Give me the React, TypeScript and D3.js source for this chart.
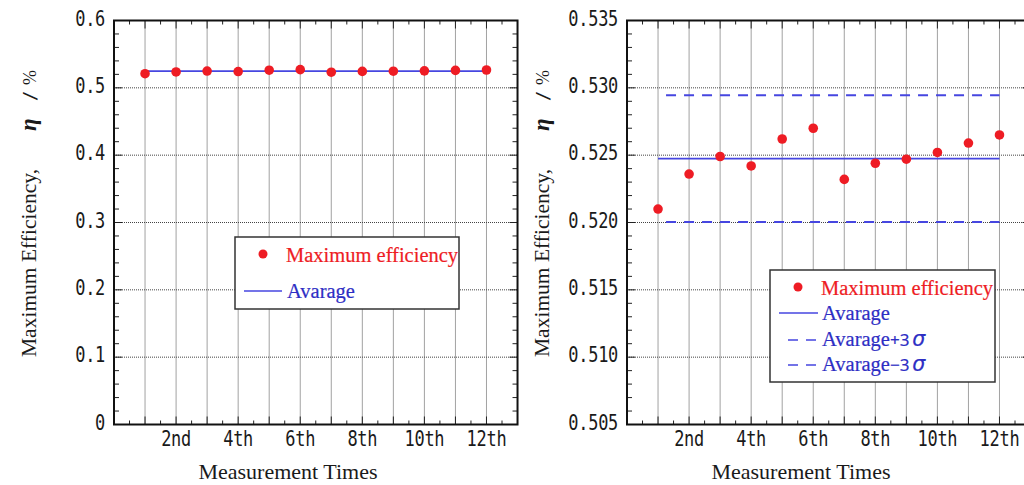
import React from 'react';
import * as d3 from 'd3';

const times = [1, 2, 3, 4, 5, 6, 7, 8, 9, 10, 11, 12];
const efficiency = [0.521, 0.5236, 0.5249, 0.5242, 0.5262, 0.527, 0.5232, 0.5244, 0.5247, 0.5252, 0.5259, 0.5265];
const average = 0.52475;
const avgPlus3Sigma = 0.52945;
const avgMinus3Sigma = 0.52003;

const xTickValues = [2, 4, 6, 8, 10, 12];
const xTickLabels = ['2nd', '4th', '6th', '8th', '10th', '12th'];

const leftYTicks = [0, 0.1, 0.2, 0.3, 0.4, 0.5, 0.6];
const leftYLabels = ['0', '0.1', '0.2', '0.3', '0.4', '0.5', '0.6'];
const rightYTicks = [0.505, 0.51, 0.515, 0.52, 0.525, 0.53, 0.535];
const rightYLabels = ['0.505', '0.510', '0.515', '0.520', '0.525', '0.530', '0.535'];

const RED = '#ee1c24';
const BLUE_TEXT = '#2e2ec4';
const BLUE_LINE = '#4646e0';
const MONO = '"DejaVu Sans Mono", "Liberation Mono", monospace';
const SERIF = '"Liberation Serif", "Times New Roman", serif';

const TOP = 20.5;
const BOTTOM = 424.5;
const UNIT = 31.04;

interface PanelProps {
  left: number;
  yTicks: number[];
  yLabels: string[];
  minorStep: number;
  showSigma: boolean;
  legend: { x: number; y: number; w: number; h: number };
}

// gothic-looking tick label: monospace, stretched a little vertically
const TickText: React.FC<{ x: number; y: number; anchor: string; children: React.ReactNode }> = ({ x, y, anchor, children }) => (
  <text transform={`translate(${x},${y}) scale(1,1.2)`} textAnchor={anchor} fontFamily={MONO} fontSize={17}
    letterSpacing={-0.3} fill="#1a1a1a">
    {children}
  </text>
);

const Panel: React.FC<PanelProps> = ({ left, yTicks, yLabels, minorStep, showSigma, legend }) => {
  const x = d3.scaleLinear().domain([0, 13]).range([left, left + 13 * UNIT]);
  const y = d3.scaleLinear().domain([yTicks[0], yTicks[yTicks.length - 1]]).range([BOTTOM, TOP]);
  const right = x(13);
  const [y0, y1] = y.domain();
  const yMinor = d3.range(Math.round((y1 - y0) / minorStep) + 1).map(i => y0 + i * minorStep);
  const xMinor = d3.range(27).map(i => i * 0.5);
  const perMajor = Math.round((yTicks[1] - yTicks[0]) / minorStep);

  const grid = '#444';
  const lx = legend.x;
  const ly = legend.y;

  return (
    <g>
      {/* grid */}
      {times.map(t => (
        <line key={'gx' + t} x1={x(t)} x2={x(t)} y1={TOP} y2={BOTTOM} stroke={grid} strokeWidth={1} strokeDasharray="1,1" />
      ))}
      {yTicks.slice(1, -1).map(v => (
        <line key={'gy' + v} x1={left} x2={right} y1={y(v)} y2={y(v)} stroke={grid} strokeWidth={1} strokeDasharray="1,1" />
      ))}

      {/* minor / major ticks, mirrored on all four sides */}
      {yMinor.map((v, i) => {
        const len = i % perMajor === 0 ? 8 : 5;
        return (
          <g key={'ty' + i}>
            <line x1={left} x2={left + len} y1={y(v)} y2={y(v)} stroke="#222" strokeWidth={1} />
            <line x1={right} x2={right - len} y1={y(v)} y2={y(v)} stroke="#222" strokeWidth={1} />
          </g>
        );
      })}
      {xMinor.map((v, i) => {
        const len = i % 2 === 0 ? 8 : 4;
        return (
          <g key={'tx' + i}>
            <line x1={x(v)} x2={x(v)} y1={BOTTOM} y2={BOTTOM - len} stroke="#222" strokeWidth={1} />
            <line x1={x(v)} x2={x(v)} y1={TOP} y2={TOP + len} stroke="#222" strokeWidth={1} />
          </g>
        );
      })}

      {/* reference lines */}
      <line x1={x(1)} x2={x(12)} y1={y(average)} y2={y(average)} stroke={BLUE_LINE} strokeWidth={1.8} />
      {showSigma && (
        <>
          <line x1={x(1)} x2={x(12)} y1={y(avgPlus3Sigma)} y2={y(avgPlus3Sigma)} stroke={BLUE_LINE} strokeWidth={1.8} strokeDasharray="10,8" strokeDashoffset={10} />
          <line x1={x(1)} x2={x(12)} y1={y(avgMinus3Sigma)} y2={y(avgMinus3Sigma)} stroke={BLUE_LINE} strokeWidth={2} strokeDasharray="10,8" strokeDashoffset={10} />
        </>
      )}

      {/* points */}
      {efficiency.map((v, i) => (
        <circle key={'p' + i} cx={x(times[i])} cy={y(v)} r={4.8} fill={RED} />
      ))}

      {/* frame */}
      <rect x={left} y={TOP} width={right - left} height={BOTTOM - TOP} fill="none" stroke="#111" strokeWidth={2} />

      {/* y tick labels */}
      {yTicks.map((v, i) => (
        <TickText key={'yl' + i} x={left - 9} y={y(v) + 5} anchor="end">{yLabels[i]}</TickText>
      ))}
      {/* x tick labels */}
      {xTickValues.map((v, i) => (
        <TickText key={'xl' + i} x={x(v)} y={446} anchor="middle">{xTickLabels[i]}</TickText>
      ))}

      {/* axis titles */}
      <text x={left + 174} y={479} textAnchor="middle" fontFamily={SERIF} fontSize={22} fill="#1a1a1a">
        Measurement Times
      </text>
      <g transform={`translate(${left - 78},0) rotate(-90)`} fontFamily={SERIF} fontSize={21.5} fill="#1a1a1a">
        <text x={-357}>Maximum Efficiency,</text>
        <text x={-131} fontWeight="bold" fontStyle="italic" fontSize={23}>η</text>
        <text x={-101} fontFamily={MONO} fontSize={17}>/</text>
        <text x={-85} fontSize={18}>%</text>
      </g>

      {/* legend */}
      <rect x={lx} y={ly} width={legend.w} height={legend.h} fill="#fff" stroke="#333" strokeWidth={1.5} />
      <circle cx={lx + 28} cy={ly + 17} r={4.5} fill={RED} />
      <text x={lx + 51} y={ly + 25} fontFamily={SERIF} fontSize={20.5} fill={RED} stroke={RED} strokeWidth={0.2}>Maximum efficiency</text>
      {showSigma ? (
        <>
          <line x1={lx + 9} x2={lx + 48} y1={ly + 43} y2={ly + 43} stroke={BLUE_LINE} strokeWidth={1.6} />
          <text x={lx + 52} y={ly + 50} fontFamily={SERIF} fontSize={20.5} fill={BLUE_TEXT} stroke={BLUE_TEXT} strokeWidth={0.2}>Avarage</text>
          <line x1={lx + 18} x2={lx + 47} y1={ly + 70} y2={ly + 70} stroke={BLUE_LINE} strokeWidth={1.6} strokeDasharray="10,8" />
          <text x={lx + 52} y={ly + 76} fontFamily={SERIF} fontSize={20.5} fill={BLUE_TEXT} stroke={BLUE_TEXT} strokeWidth={0.2}>
            Avarage<tspan fontFamily='"Noto Sans", sans-serif' fontSize={17}>+3</tspan>
            <tspan dx={3} fontFamily='"DejaVu Sans", sans-serif' fontStyle="italic">σ</tspan>
          </text>
          <line x1={lx + 18} x2={lx + 47} y1={ly + 95} y2={ly + 95} stroke={BLUE_LINE} strokeWidth={1.6} strokeDasharray="10,8" />
          <text x={lx + 52} y={ly + 101} fontFamily={SERIF} fontSize={20.5} fill={BLUE_TEXT} stroke={BLUE_TEXT} strokeWidth={0.2}>
            Avarage<tspan fontFamily='"Noto Sans", sans-serif' fontSize={17}>−3</tspan>
            <tspan dx={3} fontFamily='"DejaVu Sans", sans-serif' fontStyle="italic">σ</tspan>
          </text>
        </>
      ) : (
        <>
          <line x1={lx + 9} x2={lx + 47} y1={ly + 54} y2={ly + 54} stroke={BLUE_LINE} strokeWidth={1.6} />
          <text x={lx + 52} y={ly + 61} fontFamily={SERIF} fontSize={20.5} fill={BLUE_TEXT} stroke={BLUE_TEXT} strokeWidth={0.2}>Avarage</text>
        </>
      )}
    </g>
  );
};

export default function App() {
  return (
    <svg width={1024} height={485} style={{ position: 'absolute', left: 0, top: 0, background: '#fff' }}>
      <rect width={1024} height={485} fill="#fff" />
      <Panel left={114} yTicks={leftYTicks} yLabels={leftYLabels} minorStep={0.02} showSigma={false}
        legend={{ x: 235, y: 237, w: 224, h: 72 }} />
      <Panel left={627} yTicks={rightYTicks} yLabels={rightYLabels} minorStep={0.001} showSigma={true}
        legend={{ x: 770, y: 270, w: 225, h: 112 }} />
    </svg>
  );
}
